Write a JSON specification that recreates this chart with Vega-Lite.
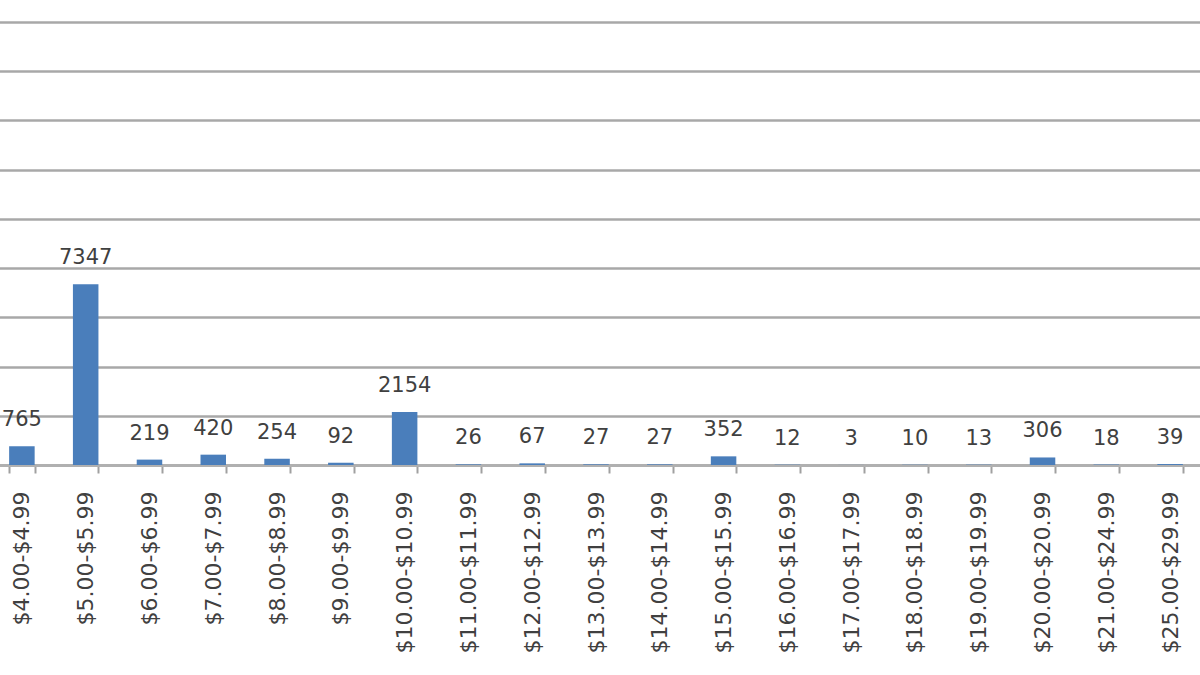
{
  "$schema": "https://vega.github.io/schema/vega-lite/v6.json",
  "width": 1212,
  "height": 443,
  "autosize": {"type": "none"},
  "padding": {"left": -10, "right": -2, "top": 22, "bottom": 210},
  "background": "white",
  "data": {
    "values": [
      {"range": "$4.00-$4.99", "count": 765},
      {"range": "$5.00-$5.99", "count": 7347},
      {"range": "$6.00-$6.99", "count": 219},
      {"range": "$7.00-$7.99", "count": 420},
      {"range": "$8.00-$8.99", "count": 254},
      {"range": "$9.00-$9.99", "count": 92},
      {"range": "$10.00-$10.99", "count": 2154},
      {"range": "$11.00-$11.99", "count": 26},
      {"range": "$12.00-$12.99", "count": 67},
      {"range": "$13.00-$13.99", "count": 27},
      {"range": "$14.00-$14.99", "count": 27},
      {"range": "$15.00-$15.99", "count": 352},
      {"range": "$16.00-$16.99", "count": 12},
      {"range": "$17.00-$17.99", "count": 3},
      {"range": "$18.00-$18.99", "count": 10},
      {"range": "$19.00-$19.99", "count": 13},
      {"range": "$20.00-$20.99", "count": 306},
      {"range": "$21.00-$24.99", "count": 18},
      {"range": "$25.00-$29.99", "count": 39}
    ]
  },
  "encoding": {
    "x": {
      "field": "range",
      "type": "nominal",
      "sort": null,
      "title": null,
      "scale": {"paddingInner": 0.6, "paddingOuter": 0.3},
      "axis": {
        "labelAngle": -90,
        "labelFont": "DejaVu Sans",
        "labelFontSize": 22,
        "labelColor": "#404040",
        "labelPadding": 18,
        "tickBand": "extent",
        "tickSize": 8,
        "tickColor": "#a0a0a0",
        "tickWidth": 2,
        "domainColor": "#b0b0b0",
        "domainWidth": 3,
        "grid": false
      }
    },
    "y": {
      "field": "count",
      "type": "quantitative",
      "title": null,
      "scale": {"domain": [0, 18000], "nice": false},
      "axis": {
        "values": [0, 2000, 4000, 6000, 8000, 10000, 12000, 14000, 16000, 18000],
        "labels": false,
        "ticks": false,
        "domain": false,
        "grid": true,
        "gridColor": "#a8a8a8",
        "gridWidth": 2.5,
        "gridOpacity": 1
      }
    }
  },
  "layer": [
    {
      "mark": {"type": "bar", "color": "#4a7ebb"}
    },
    {
      "mark": {
        "type": "text",
        "baseline": "alphabetic",
        "dy": -20,
        "font": "DejaVu Sans",
        "fontSize": 21,
        "color": "#404040"
      },
      "encoding": {"text": {"field": "count", "type": "quantitative"}}
    }
  ],
  "config": {"view": {"stroke": null}}
}
